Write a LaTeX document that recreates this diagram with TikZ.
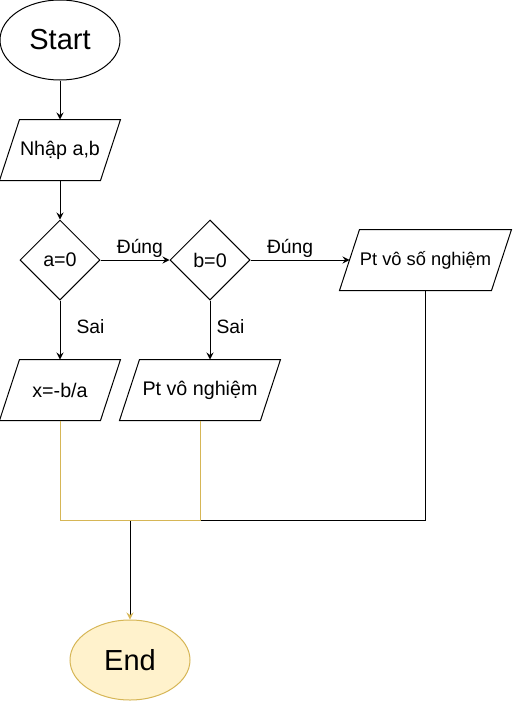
\documentclass[tikz,border=0pt]{standalone}
\usepackage{fontspec}
\setmainfont{Liberation Sans}
\usetikzlibrary{shapes.geometric}
\usetikzlibrary{arrows.meta}
\usetikzlibrary{calc}
\definecolor{endline}{HTML}{D6B656}
\definecolor{endfill}{HTML}{FFF2CC}
\tikzset{
  txt/.style={font=\fontsize{19.7}{22}\selectfont},
  term/.style={draw, ellipse, minimum width=120pt, minimum height=80pt, inner sep=0pt, font=\fontsize{29}{32}\selectfont},
  io/.style={rectangle, minimum height=60pt, minimum width=#1, inner sep=0pt, txt},
  cond/.style={draw, diamond, minimum width=80pt, minimum height=80pt, inner sep=0pt, txt},
  lbl/.style={inner sep=0pt, font=\fontsize{19.3}{22}\selectfont},
  flow/.style={-{Stealth[length=7pt,width=7pt,inset=2.5pt]}},
}
\begin{document}
\begin{tikzpicture}[x=1pt,y=-1pt,line width=1pt]
\useasboundingbox (0,0) rectangle (512,701);
\def\s{20}
\node[term] (start) at (60,40) {Start};
\node[io=120pt] (nhap) at (60,150) {Nhập a,b};
\node[cond] (a0) at (60,260) {a=0};
\node[cond] (b0) at (210,260) {b=0};
\node[io=171pt, font=\fontsize{18.3}{20}\selectfont] (vs) at (425.5,260) {Pt vô số nghiệm};
\node[io=120pt] (x) at (60,390) {x=-b/a};
\node[io=160pt] (vn) at (200,390) {Pt vô nghiệm};
\node[term, draw=endline, fill=endfill] (end) at (130,660) {End};
\coordinate (j) at (130,520);
\foreach \n in {nhap,vs,x,vn}
  \draw (\n.south west) -- ($(\n.north west)+(\s,0)$) -- (\n.north east) -- ($(\n.south east)+(-\s,0)$) -- cycle;

\draw[flow] (start) -- (nhap);
\draw[flow] (nhap) -- (a0);
\draw[flow] (a0.east) -- (b0.west) node[lbl, anchor=base, pos=0.571, yshift=7pt] {Đúng};
\draw[flow] (b0.east) -- ($(vs.west)+(0.5*\s,0)$) node[lbl, anchor=base, pos=0.4, yshift=7pt] {Đúng};
\draw[flow] (a0.south) -- (x.north) node[lbl, anchor=west, pos=0.45, xshift=16pt] {Sai};
\draw[flow] (b0.south) -- (b0.south |- vn.north) node[lbl, anchor=west, pos=0.45, xshift=6pt] {Sai};

\draw[-{Stealth[length=7pt,width=7pt,inset=2.5pt,color=endline]}] (vs.south) |- (j) -- (end.north);
\draw[endline] (x.south) |- (j);
\draw[endline] (vn.south) |- (j);
\end{tikzpicture}
\end{document}
